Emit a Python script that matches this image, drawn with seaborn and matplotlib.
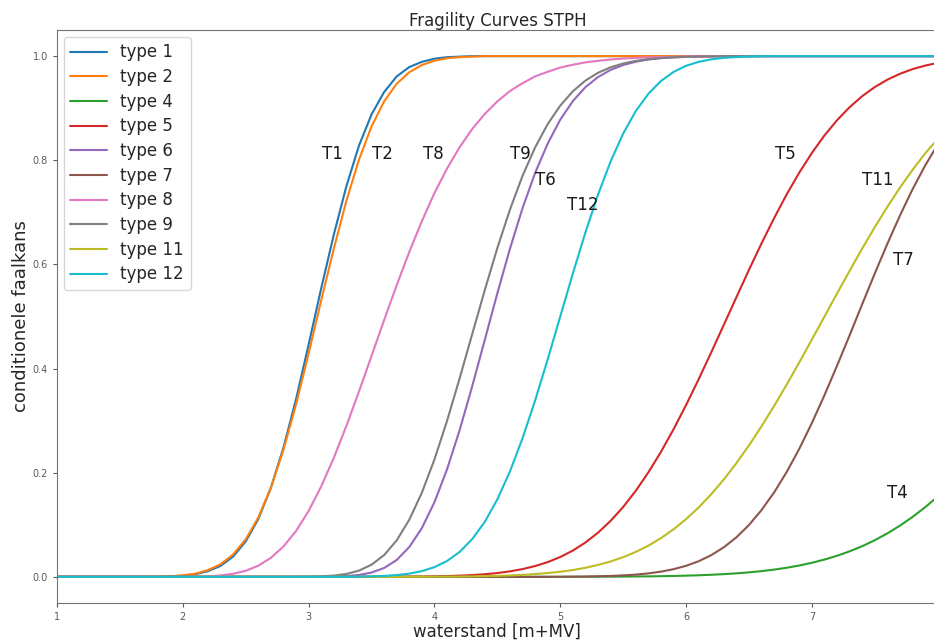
import numpy as np
import pandas as pd
import matplotlib
matplotlib.use("Agg")
import matplotlib.pyplot as plt
import seaborn as sns

# waterstand grid [m+MV], 1.0 .. 8.0 in steps of 0.1
waterstand = np.round(np.linspace(1.0, 8.0, 71), 1)

# conditionele faalkans per type (rows of 10 points: 1.x, 2.x, ... 7.x, then 8.0)
type_1 = [0, 0, 0, 0, 0, 0, 0, 0, 0, 0.001,
          0.002, 0.005, 0.011, 0.021, 0.039, 0.068, 0.111, 0.171, 0.248, 0.341,
          0.446, 0.554, 0.657, 0.750, 0.828, 0.888, 0.931, 0.961, 0.979, 0.989,
          0.995, 0.998, 0.999, 1, 1, 1, 1, 1, 1, 1,
          1, 1, 1, 1, 1, 1, 1, 1, 1, 1,
          1, 1, 1, 1, 1, 1, 1, 1, 1, 1,
          1, 1, 1, 1, 1, 1, 1, 1, 1, 1,
          1]
type_2 = [0, 0, 0, 0, 0, 0, 0, 0, 0, 0.001,
          0.003, 0.006, 0.013, 0.024, 0.043, 0.072, 0.114, 0.171, 0.244, 0.331,
          0.429, 0.531, 0.630, 0.722, 0.801, 0.865, 0.913, 0.947, 0.969, 0.983,
          0.991, 0.996, 0.998, 0.999, 1, 1, 1, 1, 1, 1,
          1, 1, 1, 1, 1, 1, 1, 1, 1, 1,
          1, 1, 1, 1, 1, 1, 1, 1, 1, 1,
          1, 1, 1, 1, 1, 1, 1, 1, 1, 1,
          1]
type_4 = [0, 0, 0, 0, 0, 0, 0, 0, 0, 0,
          0, 0, 0, 0, 0, 0, 0, 0, 0, 0,
          0, 0, 0, 0, 0, 0, 0, 0, 0, 0,
          0, 0, 0, 0, 0, 0, 0, 0, 0, 0,
          0, 0.0001, 0.0002, 0.0003, 0.0004, 0.0005, 0.0007, 0.0009, 0.0013, 0.0017,
          0.0023, 0.003, 0.004, 0.0052, 0.0067, 0.0086, 0.011, 0.0139, 0.0175, 0.0218,
          0.027, 0.0332, 0.0405, 0.049, 0.0589, 0.0704, 0.0835, 0.0984, 0.1151, 0.1337,
          0.1543]
type_5 = [0, 0, 0, 0, 0, 0, 0, 0, 0, 0,
          0, 0, 0, 0, 0, 0, 0, 0, 0, 0,
          0, 0, 0, 0, 0, 0, 0, 0.0002, 0.0004, 0.0006,
          0.0009, 0.0015, 0.0023, 0.0034, 0.005, 0.0073, 0.0105, 0.0149, 0.0207, 0.0283,
          0.0381, 0.0505, 0.0659, 0.0848, 0.1075, 0.1342, 0.1652, 0.2005, 0.2399, 0.2832,
          0.33, 0.3795, 0.4312, 0.484, 0.537, 0.5897, 0.6406, 0.689, 0.7347, 0.7764,
          0.8141, 0.8477, 0.877, 0.902, 0.9232, 0.9406, 0.9548, 0.9661, 0.975, 0.9818,
          0.987]
type_6 = [0, 0, 0, 0, 0, 0, 0, 0, 0, 0,
          0, 0, 0, 0, 0, 0, 0, 0, 0, 0,
          0, 0, 0.0005, 0.0014, 0.0036, 0.0082, 0.017, 0.0324, 0.0572, 0.0936,
          0.1432, 0.2064, 0.2816, 0.3658, 0.455, 0.5446, 0.630, 0.708, 0.7755, 0.832,
          0.878, 0.9136, 0.9404, 0.9598, 0.9735, 0.9829, 0.9892, 0.9934, 0.996, 0.9976,
          0.9986, 0.9992, 0.9995, 1, 1, 1, 1, 1, 1, 1,
          1, 1, 1, 1, 1, 1, 1, 1, 1, 1,
          1]
type_7 = [0, 0, 0, 0, 0, 0, 0, 0, 0, 0,
          0, 0, 0, 0, 0, 0, 0, 0, 0, 0,
          0, 0, 0, 0, 0, 0, 0, 0, 0, 0,
          0, 0, 0, 0, 0, 0, 0, 0, 0, 0.0001,
          0.0002, 0.0004, 0.0006, 0.0011, 0.0017, 0.0028, 0.0043, 0.0066, 0.01, 0.0147,
          0.0212, 0.03, 0.0417, 0.0568, 0.0759, 0.0996, 0.1284, 0.1623, 0.2016, 0.246,
          0.2956, 0.349, 0.4056, 0.4641, 0.5238, 0.5828, 0.6398, 0.694, 0.7444, 0.7899,
          0.8302]
type_8 = [0, 0, 0, 0, 0, 0, 0, 0, 0, 0,
          0, 0.0004, 0.001, 0.0027, 0.0059, 0.0116, 0.0214, 0.0365, 0.0583, 0.088,
          0.1265, 0.1736, 0.2284, 0.2898, 0.3557, 0.4243, 0.493, 0.560, 0.624, 0.683,
          0.737, 0.784, 0.825, 0.860, 0.889, 0.913, 0.933, 0.948, 0.961, 0.970,
          0.978, 0.9835, 0.988, 0.991, 0.9935, 0.9953, 0.9966, 0.9976, 0.9983, 0.9988,
          0.9991, 0.9994, 0.9996, 1, 1, 1, 1, 1, 1, 1,
          1, 1, 1, 1, 1, 1, 1, 1, 1, 1,
          1]
type_9 = [0, 0, 0, 0, 0, 0, 0, 0, 0, 0,
          0, 0, 0, 0, 0, 0, 0, 0, 0, 0,
          0.0003, 0.0009, 0.0024, 0.0055, 0.0119, 0.0233, 0.0418, 0.070, 0.1097, 0.1616,
          0.2254, 0.2995, 0.381, 0.466, 0.5505, 0.6316, 0.705, 0.770, 0.8246, 0.8695,
          0.905, 0.9324, 0.953, 0.968, 0.9785, 0.9858, 0.9909, 0.9942, 0.9964, 0.9977,
          0.9987, 0.9992, 0.9995, 1, 1, 1, 1, 1, 1, 1,
          1, 1, 1, 1, 1, 1, 1, 1, 1, 1,
          1]
type_11 = [0, 0, 0, 0, 0, 0, 0, 0, 0, 0,
           0, 0, 0, 0, 0, 0, 0, 0, 0, 0,
           0, 0, 0, 0, 0, 0, 0, 0, 0.0001, 0.0002,
           0.0003, 0.0004, 0.0006, 0.0009, 0.0013, 0.0019, 0.0027, 0.0038, 0.0053, 0.0073,
           0.0098, 0.0131, 0.0174, 0.0228, 0.0295, 0.0377, 0.0478, 0.0599, 0.0743, 0.0912,
           0.1109, 0.1333, 0.1587, 0.187, 0.2184, 0.2525, 0.2893, 0.3284, 0.3694, 0.4121,
           0.4558, 0.5, 0.5442, 0.5879, 0.6306, 0.6716, 0.7107, 0.7475, 0.7816, 0.813,
           0.8413]
type_12 = [0, 0, 0, 0, 0, 0, 0, 0, 0, 0,
           0, 0, 0, 0, 0, 0, 0, 0, 0, 0,
           0, 0, 0, 0, 0.0004, 0.0009, 0.0018, 0.0034, 0.0062, 0.011,
           0.0186, 0.0304, 0.0478, 0.0724, 0.1056, 0.1488, 0.2024, 0.266, 0.3385, 0.4176,
           0.5, 0.5824, 0.6615, 0.734, 0.7976, 0.8512, 0.8944, 0.9276, 0.9522, 0.9696,
           0.9814, 0.989, 0.9938, 0.9966, 0.9982, 0.9991, 0.9996, 1, 1, 1,
           1, 1, 1, 1, 1, 1, 1, 1, 1, 1,
           1]

type_names = ["type 1", "type 2", "type 4", "type 5", "type 6",
              "type 7", "type 8", "type 9", "type 11", "type 12"]
curves = [type_1, type_2, type_4, type_5, type_6,
          type_7, type_8, type_9, type_11, type_12]

# curve labels on the plot
label_text = ["T1", "T2", "T8", "T9", "T6", "T12", "T5", "T11", "T7", "T4"]
label_x = [3.19, 3.59, 3.99, 4.68, 4.88, 5.18, 6.79, 7.52, 7.73, 7.68]
label_y = [0.812, 0.812, 0.812, 0.812, 0.762, 0.714, 0.812, 0.762, 0.608, 0.161]

frames = []
for name, vals in zip(type_names, curves):
    frames.append(pd.DataFrame({"waterstand": waterstand, "faalkans": vals, "type": name}))
df = pd.concat(frames, ignore_index=True)

sns.set_style("ticks", {"axes.edgecolor": "0.45", "xtick.color": "0.35", "ytick.color": "0.35"})

fig = plt.figure(figsize=(9.34, 6.4), dpi=100)
ax = fig.add_axes([0.061, 0.058, 0.943, 0.895])

sns.lineplot(data=df, x="waterstand", y="faalkans", hue="type", hue_order=type_names,
             palette="tab10", linewidth=1.5, ax=ax)

for t, x, y in zip(label_text, label_x, label_y):
    ax.text(x, y, t, fontsize=12, ha="center", va="center", color="0.1")

ax.set_xlim(1, 8)
ax.set_ylim(-0.05, 1.05)
ax.set_xticks([1, 2, 3, 4, 5, 6, 7])
ax.set_yticks([0.0, 0.2, 0.4, 0.6, 0.8, 1.0])
ax.set_yticklabels(["0.0", "0.2", "0.4", "0.6", "0.8", "1.0"])
ax.tick_params(labelsize=7, length=3, colors="0.35")
ax.set_title("Fragility Curves STPH", fontsize=12, color="0.15", pad=3)
ax.set_xlabel("waterstand [m+MV]", fontsize=12, color="0.15", labelpad=0.5)
ax.set_ylabel("conditionele faalkans", fontsize=13, color="0.15", labelpad=2)

sns.move_legend(ax, "upper left", title=None, fontsize=12, frameon=True,
                handlelength=2.2, borderaxespad=0.4, labelspacing=0.4)

fig.savefig("out.png", dpi=100)
